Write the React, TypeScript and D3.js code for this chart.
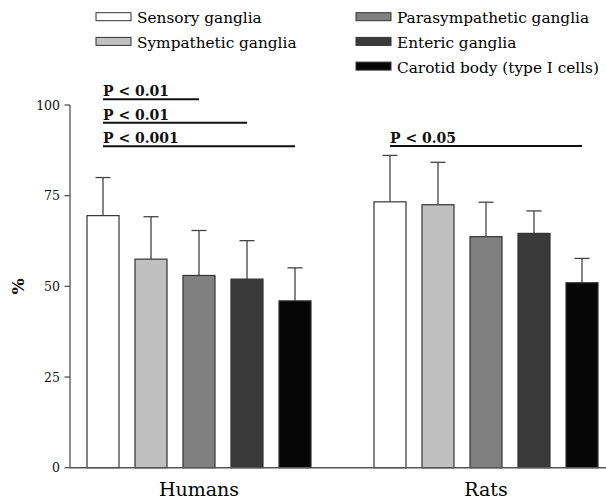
import * as d3 from "d3";

const groups = ["Humans", "Rats"];
const series = [
  "Sensory ganglia",
  "Sympathetic ganglia",
  "Parasympathetic ganglia",
  "Enteric ganglia",
  "Carotid body (type I cells)",
];
const colors = ["#ffffff", "#c0c0c0", "#808080", "#3a3a3a", "#060606"];

// mean and upper SD, per group, in series order
const humanMeans = [69.5, 57.5, 53, 52, 46];
const humanErr = [80, 69.2, 65.4, 62.6, 55.1];
const ratMeans = [73.3, 72.5, 63.7, 64.6, 51];
const ratErr = [86.1, 84.2, 73.2, 70.8, 57.7];

const yTicks = [0, 25, 50, 75, 100];

// significance bars: group, from bar, to bar, height in %, label
const sigGroup = ["Humans", "Humans", "Humans", "Rats"];
const sigFrom = [0, 0, 0, 0];
const sigTo = [2, 3, 4, 4];
const sigLevel = [101.6, 95.1, 88.6, 88.7];
const sigLabel = ["P < 0.01", "P < 0.01", "P < 0.001", "P < 0.05"];

const FONT = "'DejaVu Serif', serif";

export default function App() {
  const W = 606, H = 500;
  const y = d3.scaleLinear().domain([0, 100]).range([467.7, 105]);
  const x0 = d3.scaleBand().domain(groups).range([87, 598]).paddingInner(0.2195).paddingOuter(0);
  const x1 = d3.scaleBand().domain(series).range([0, x0.bandwidth()]).paddingInner(1 / 3).paddingOuter(0);

  const means: Record<string, number[]> = { Humans: humanMeans, Rats: ratMeans };
  const errs: Record<string, number[]> = { Humans: humanErr, Rats: ratErr };
  const cx = (g: string, i: number) => (x0(g) ?? 0) + (x1(series[i]) ?? 0) + x1.bandwidth() / 2;

  const legendX = [96, 356];
  const legendRows = [[0, 1], [2, 3, 4]];

  return (
    <svg width={W} height={H} style={{ position: "absolute", left: 0, top: 0, background: "#fff" }}>
      {/* legend */}
      {legendRows.map((row, c) =>
        row.map((si, r) => (
          <g key={si} transform={`translate(${legendX[c]},${12.7 + r * 24.7})`}>
            <rect x={0} y={0} width={35} height={8} fill={colors[si]} stroke="#333" strokeWidth={1} />
            <text x={41} y={10.5} fontFamily={FONT} fontSize={15.3} fill="#000">{series[si]}</text>
          </g>
        ))
      )}

      {/* y axis */}
      <line x1={70} x2={70} y1={y(100)} y2={y(0)} stroke="#555" strokeWidth={1.3} />
      {yTicks.map((t) => (
        <g key={t}>
          <line x1={64.5} x2={70} y1={y(t)} y2={y(t)} stroke="#555" strokeWidth={1.3} />
          <text x={60} y={y(t) + 4.5} textAnchor="end" fontFamily={FONT} fontSize={12.5} fill="#111">{t}</text>
        </g>
      ))}
      <text transform={`translate(24,${y(50)}) rotate(-90)`} textAnchor="middle" fontFamily={FONT}
        fontSize={17} fontWeight="bold" fill="#111">%</text>

      {/* bars */}
      {groups.map((g) =>
        series.map((s, i) => {
          const bx = (x0(g) ?? 0) + (x1(s) ?? 0);
          const c = cx(g, i);
          return (
            <g key={g + s}>
              <line x1={c} x2={c} y1={y(means[g][i])} y2={y(errs[g][i])} stroke="#444" strokeWidth={1.3} />
              <line x1={c - 7.5} x2={c + 7.5} y1={y(errs[g][i])} y2={y(errs[g][i])} stroke="#444" strokeWidth={1.3} />
              <rect x={bx} y={y(means[g][i])} width={x1.bandwidth()} height={y(0) - y(means[g][i])}
                fill={colors[i]} stroke="#333" strokeWidth={1.2} />
            </g>
          );
        })
      )}

      {/* x axis */}
      <line x1={70} x2={606} y1={y(0)} y2={y(0)} stroke="#555" strokeWidth={1.5} />
      {groups.map((g) => (
        <text key={g} x={(x0(g) ?? 0) + x0.bandwidth() / 2} y={496} textAnchor="middle"
          fontFamily={FONT} fontSize={19} fill="#000">{g}</text>
      ))}

      {/* significance */}
      {sigLabel.map((lab, k) => {
        const xa = cx(sigGroup[k], sigFrom[k]);
        const xb = cx(sigGroup[k], sigTo[k]);
        const ly = y(sigLevel[k]);
        return (
          <g key={k}>
            <line x1={xa} x2={xb} y1={ly} y2={ly} stroke="#111" strokeWidth={2} />
            <text x={xa} y={ly - 3} fontFamily={FONT} fontSize={14} fontWeight="bold" fill="#111">{lab}</text>
          </g>
        );
      })}
    </svg>
  );
}
